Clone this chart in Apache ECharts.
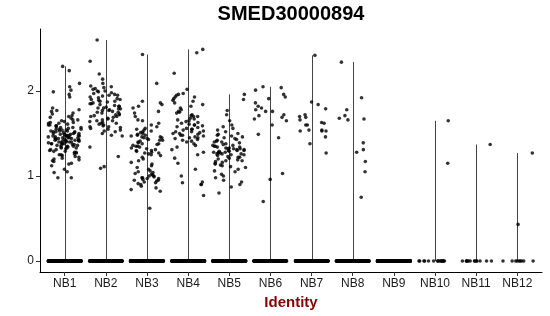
<!DOCTYPE html>
<html><head><meta charset="utf-8">
<script src="https://cdn.jsdelivr.net/npm/echarts@6/dist/echarts.min.js"></script>
<style>html,body{margin:0;padding:0;background:#fff}#c{width:550px;height:316px}</style>
</head><body><div id="c"></div>
<script>
const chartTitle = 'SMED30000894';
const xTitle = 'Identity';
const categories = ['NB1','NB2','NB3','NB4','NB5','NB6','NB7','NB8','NB9','NB10','NB11','NB12'];
const yTicks = [0, 1, 2];

// non-zero expression values, per identity
const NB1 = [2.29,2.24,2.09,2.05,2.01,1.99,1.96,1.93,1.80,1.78,1.77,1.76,1.74,1.73,1.71,1.70,1.69,1.68,1.66,1.66,1.65,1.64,1.63,1.63,1.62,1.62,1.61,1.60,1.60,1.59,1.59,1.58,1.57,1.57,1.57,1.56,1.55,1.55,1.55,1.54,1.54,1.53,1.53,1.53,1.52,1.52,1.52,1.51,1.51,1.50,1.50,1.50,1.49,1.49,1.49,1.48,1.48,1.48,1.47,1.47,1.47,1.47,1.46,1.46,1.46,1.45,1.45,1.45,1.45,1.44,1.44,1.44,1.44,1.43,1.43,1.43,1.42,1.42,1.42,1.42,1.41,1.41,1.41,1.40,1.40,1.40,1.40,1.39,1.39,1.38,1.38,1.38,1.38,1.37,1.37,1.36,1.36,1.36,1.35,1.35,1.34,1.34,1.33,1.33,1.33,1.32,1.31,1.31,1.30,1.29,1.29,1.28,1.28,1.27,1.26,1.25,1.25,1.24,1.23,1.22,1.21,1.20,1.19,1.18,1.17,1.15,1.14,1.12,1.08,1.05,1.04,0.98,0.98];
const NB2 = [2.60,2.35,2.20,2.14,2.09,2.06,2.05,2.04,2.03,2.02,2.00,2.00,1.99,1.98,1.97,1.96,1.95,1.95,1.94,1.93,1.92,1.91,1.90,1.90,1.89,1.88,1.88,1.87,1.86,1.85,1.85,1.84,1.83,1.82,1.82,1.81,1.80,1.80,1.79,1.79,1.78,1.77,1.77,1.76,1.75,1.75,1.74,1.73,1.72,1.72,1.71,1.70,1.70,1.69,1.68,1.67,1.66,1.65,1.65,1.64,1.63,1.62,1.62,1.61,1.60,1.59,1.58,1.58,1.57,1.56,1.55,1.54,1.53,1.52,1.50,1.48,1.47,1.34,1.23,1.11,1.09];
const NB3 = [2.43,2.09,1.88,1.86,1.84,1.82,1.80,1.76,1.74,1.70,1.66,1.65,1.62,1.60,1.58,1.56,1.55,1.54,1.53,1.52,1.51,1.50,1.49,1.48,1.48,1.47,1.46,1.46,1.45,1.45,1.44,1.43,1.42,1.42,1.41,1.40,1.39,1.38,1.38,1.37,1.36,1.35,1.35,1.34,1.33,1.32,1.31,1.30,1.30,1.29,1.28,1.27,1.27,1.26,1.25,1.24,1.22,1.20,1.18,1.16,1.14,1.12,1.10,1.08,1.06,1.05,1.04,1.03,1.02,1.01,1.00,1.00,0.99,0.98,0.98,0.97,0.97,0.96,0.95,0.95,0.94,0.93,0.92,0.91,0.90,0.88,0.86,0.84,0.82,0.62];
const NB4 = [2.49,2.45,2.21,2.02,1.97,1.96,1.95,1.93,1.93,1.91,1.89,1.88,1.86,1.84,1.82,1.80,1.78,1.76,1.75,1.74,1.72,1.71,1.70,1.70,1.68,1.67,1.66,1.65,1.64,1.63,1.62,1.61,1.60,1.60,1.59,1.58,1.57,1.56,1.55,1.55,1.54,1.53,1.52,1.52,1.51,1.50,1.50,1.49,1.48,1.48,1.47,1.46,1.45,1.45,1.44,1.43,1.42,1.41,1.40,1.38,1.36,1.34,1.31,1.28,1.25,1.21,1.15,1.08,1.00,0.93,0.92,0.90,0.90,0.77];
const NB5 = [1.96,1.90,1.77,1.72,1.65,1.60,1.58,1.56,1.54,1.52,1.50,1.49,1.48,1.47,1.46,1.45,1.44,1.43,1.42,1.41,1.40,1.40,1.39,1.38,1.37,1.36,1.36,1.35,1.35,1.34,1.34,1.33,1.33,1.32,1.32,1.32,1.31,1.31,1.30,1.30,1.30,1.29,1.29,1.28,1.28,1.28,1.27,1.27,1.26,1.26,1.26,1.25,1.25,1.24,1.23,1.22,1.22,1.21,1.20,1.19,1.18,1.18,1.17,1.16,1.15,1.14,1.13,1.12,1.11,1.10,1.08,1.06,1.05,1.02,1.00,0.98,0.95,0.93,0.90,0.87,0.80];
const NB6 = [2.05,2.04,2.01,1.96,1.93,1.91,1.86,1.82,1.80,1.78,1.76,1.76,1.72,1.71,1.69,1.67,1.65,1.60,1.49,1.45,1.03,0.96,0.70];
const NB7 = [2.42,1.87,1.84,1.79,1.72,1.70,1.69,1.66,1.63,1.62,1.60,1.60,1.54,1.54,1.53,1.53,1.53,1.46,1.38,1.27];
const NB8 = [2.34,1.92,1.78,1.71,1.68,1.67,1.66,1.39,1.31,1.28,1.17,1.05,0.75];
const NB9 = [];
const NB10 = [1.65,1.15];
const NB11 = [1.37];
const NB12 = [1.27,0.43];
// number of cells with zero expression, per identity
const zeroCounts = [380,360,400,350,390,280,300,270,320,16,13,9];

const groups = [NB1,NB2,NB3,NB4,NB5,NB6,NB7,NB8,NB9,NB10,NB11,NB12];
const FONT = "'Liberation Sans', Arial, Helvetica, sans-serif";
const JIT = 0.4;
// deterministic horizontal jitter (position only, like geom_jitter)
function jitter(k, g, seed) {
  const s = Math.sin((k + 1) * 12.9898 + (g + 1) * 78.233 + seed * 37.719) * 43758.5453;
  const f = s - Math.floor(s);
  return (f - 0.5) * 2 * JIT;
}
const points = [];
groups.forEach((vals, g) => {
  vals.forEach((v, k) => points.push([g + jitter(k, g, 1), v]));
  for (let k = 0; k < zeroCounts[g]; k++) points.push([g + jitter(k, g, 2), 0]);
});
const violinTops = groups.map((vals, g) => [g, vals.length ? Math.max(...vals) : 0]);

const chart = echarts.init(document.getElementById('c'), null, {renderer: 'canvas'});
chart.setOption({
  animation: false,
  backgroundColor: '#fff',
  textStyle: {fontFamily: FONT},
  graphic: [{
    type: 'text', x: 291, y: 4,
    style: {text: chartTitle, textAlign: 'center', fill: '#000',
      font: "bold 20px " + FONT}
  }],
  grid: {left: 40, right: 8, top: 29, bottom: 44, containLabel: false},
  xAxis: {
    type: 'value', min: -0.6, max: 11.6,
    name: xTitle, nameLocation: 'middle', nameGap: 21,
    nameTextStyle: {color: '#8B0000', fontWeight: 'bold', fontSize: 15, fontFamily: FONT},
    axisLine: {show: true, onZero: false, lineStyle: {color: '#000', width: 1}},
    axisTick: {show: true, length: 4, customValues: categories.map((c, i) => i), lineStyle: {color: '#333'}},
    axisLabel: {customValues: categories.map((c, i) => i), formatter: v => categories[Math.round(v)],
      color: '#1a1a1a', fontSize: 12, margin: 6, fontFamily: FONT},
    splitLine: {show: false}
  },
  yAxis: {
    type: 'value', min: -0.13, max: 2.73,
    axisLine: {show: true, onZero: false, lineStyle: {color: '#000', width: 1}},
    axisTick: {show: true, length: 4, customValues: yTicks, lineStyle: {color: '#333'}},
    axisLabel: {customValues: yTicks, color: '#1a1a1a', fontSize: 12, margin: 6, fontFamily: FONT},
    splitLine: {show: false}
  },
  series: [{
    type: 'custom',
    data: violinTops,
    renderItem: (params, api) => {
      const top = api.value(1);
      if (!(top > 0)) return null;
      const p0 = api.coord([api.value(0), 0]);
      const p1 = api.coord([api.value(0), top]);
      return {type: 'line', shape: {x1: Math.round(p0[0]) + 0.5, y1: p0[1], x2: Math.round(p1[0]) + 0.5, y2: p1[1]},
        style: {stroke: '#444', lineWidth: 1}};
    },
    silent: true, z: 1
  }, {
    type: 'scatter',
    data: points,
    symbol: 'circle', symbolSize: 3.6,
    itemStyle: {color: '#000'},
    progressive: 0, large: false, silent: true, z: 2
  }]
});
</script></body></html>
